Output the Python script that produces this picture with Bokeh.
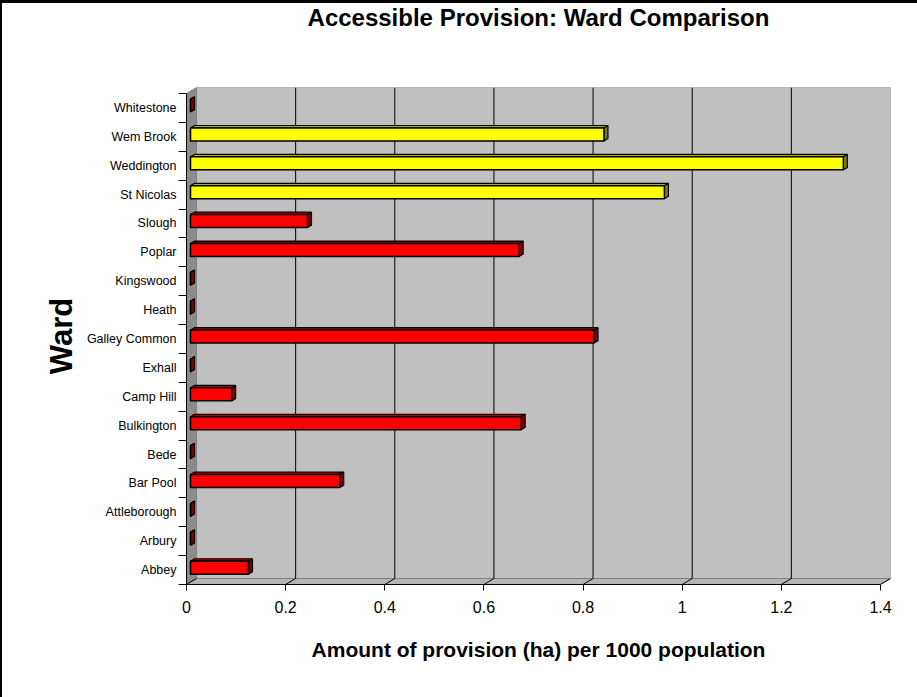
import numpy as np
from bokeh.plotting import figure
from bokeh.models import Range1d, FixedTicker, ColumnDataSource, LinearAxis
from bokeh.embed import file_html
from bokeh.resources import INLINE

# ---------------- data ----------------
wards = ["Abbey", "Arbury", "Attleborough", "Bar Pool", "Bede", "Bulkington",
         "Camp Hill", "Exhall", "Galley Common", "Heath", "Kingswood", "Poplar",
         "Slough", "St Nicolas", "Weddington", "Wem Brook", "Whitestone"]
values = [0.117, 0.0, 0.0, 0.301, 0.0, 0.667,
          0.083, 0.0, 0.814, 0.0, 0.0, 0.663,
          0.236, 0.956, 1.317, 0.834, 0.0]
highlighted = ["St Nicolas", "Weddington", "Wem Brook"]
x_ticks = [0, 0.2, 0.4, 0.6, 0.8, 1.0, 1.2, 1.4]
x_tick_labels = ["0", "0.2", "0.4", "0.6", "0.8", "1", "1.2", "1.4"]
title_text = "Accessible Provision: Ward Comparison"
x_title = "Amount of provision (ha) per 1000 population"
y_title = "Ward"

# ---------------- geometry (3-D look) ----------------
FONT = "Liberation Sans"
XMAX = x_ticks[-1]
n = len(wards)
Y0, Y1 = -0.5, n - 0.5
PXX = 495.7               # pixels per x unit
DX = 10 / PXX            # depth offset in x data units
DY = 6 / 28.9            # depth offset in y data units
D0, D1 = 0.4, 0.8        # bar depth (fraction of wall depth)
H = 0.225                # half bar thickness

p = figure(width=917, height=697,
           x_range=Range1d(0, XMAX + DX), y_range=Range1d(Y0, Y1 + DY),
           output_backend="svg", toolbar_location=None,
           min_border_left=186, min_border_right=27,
           min_border_top=87, min_border_bottom=113)
p.xgrid.visible = False
p.ygrid.visible = False
p.outline_line_color = None
p.background_fill_color = "white"
p.border_fill_color = "white"
p.border_fill_alpha = 0
p.styles = {"box-shadow": "inset 2px 3px 0 0 #000000", "background-color": "white"}

xa = p.below[0]
ya = p.left[0]

# chart title (label of a bare axis above the plot, so it sits at the top of the chart)
ta = LinearAxis(ticker=FixedTicker(ticks=[], minor_ticks=[]),
                axis_label=title_text, axis_line_color=None,
                major_tick_line_color=None, minor_tick_line_color=None,
                major_tick_out=0, major_tick_in=0, minor_tick_out=0, minor_tick_in=0,
                major_label_text_font_size="0px")
ta.axis_label_text_font = FONT
ta.axis_label_text_font_size = "24px"
ta.axis_label_text_font_style = "bold"
ta.axis_label_text_color = "black"
ta.axis_label_standoff = 57
p.add_layout(ta, "above")

# walls
p.quad(left=DX, right=XMAX + DX, bottom=Y0 + DY, top=Y1 + DY,
       fill_color="#C0C0C0", line_color="#808080", line_width=1)
p.patch([0, DX, DX, 0], [Y0, Y0 + DY, Y1 + DY, Y1],
        fill_color="#8C8C8C", line_color="#808080", line_width=1)
p.patch([0, XMAX, XMAX + DX, DX], [Y0, Y0, Y0 + DY, Y0 + DY],
        fill_color="#B4B4B4", line_color="#808080", line_width=1)

# gridlines on back wall and floor
inner = [t for t in x_ticks if 0 < t < XMAX]
p.segment(x0=[t + DX for t in inner], y0=[Y0 + DY] * len(inner),
          x1=[t + DX for t in inner], y1=[Y1 + DY] * len(inner),
          line_color="#000000", line_width=1)
p.segment(x0=x_ticks, y0=[Y0] * len(x_ticks),
          x1=[t + DX for t in x_ticks], y1=[Y0 + DY] * len(x_ticks),
          line_color="#000000", line_width=1)

# bars
v = np.array(values)
idx = np.arange(n)
is_hl = [w in highlighted for w in wards]
front_c = ["#FFFF00" if h else "#FF0000" for h in is_hl]
top_c = ["#B3B300" if h else "#B00000" for h in is_hl]
side_c = ["#808000" if h else "#800000" for h in is_hl]

top_xs = [[D0 * DX, vi + D0 * DX, vi + D1 * DX, D1 * DX] for vi in v]
top_ys = [[i + H + D0 * DY, i + H + D0 * DY, i + H + D1 * DY, i + H + D1 * DY] for i in idx]
side_xs = [[vi + D0 * DX, vi + D1 * DX, vi + D1 * DX, vi + D0 * DX] for vi in v]
side_ys = [[i - H + D0 * DY, i - H + D1 * DY, i + H + D1 * DY, i + H + D0 * DY] for i in idx]

src = ColumnDataSource(dict(
    left=[D0 * DX] * n, right=list(v + D0 * DX),
    bottom=list(idx - H + D0 * DY), top=list(idx + H + D0 * DY),
    top_xs=top_xs, top_ys=top_ys, side_xs=side_xs, side_ys=side_ys,
    front_c=front_c, top_c=top_c, side_c=side_c))

p.patches(xs="top_xs", ys="top_ys", fill_color="top_c", line_color="black", line_width=1.2, source=src)
p.patches(xs="side_xs", ys="side_ys", fill_color="side_c", line_color="black", line_width=1.2, source=src)
p.quad(left="left", right="right", bottom="bottom", top="top",
       fill_color="front_c", line_color="black", line_width=1.5, source=src)

# y axis (categories)
ya.ticker = FixedTicker(ticks=list(range(n)), minor_ticks=[i - 0.5 for i in range(n + 1)])
ya.major_label_overrides = {i: w for i, w in enumerate(wards)}
ya.bounds = (Y0, Y1)
ya.major_tick_out = 0
ya.major_tick_in = 0
ya.minor_tick_out = 8
ya.minor_tick_in = 0
ya.minor_tick_line_color = "black"
ya.axis_line_color = "black"
ya.major_label_text_font = FONT
ya.major_label_text_font_size = "12.5px"
ya.major_label_text_color = "black"
ya.major_label_standoff = 2
ya.axis_label = y_title
ya.axis_label_text_font = FONT
ya.axis_label_text_font_size = "31px"
ya.axis_label_text_font_style = "bold"
ya.axis_label_text_color = "black"
ya.axis_label_standoff = 5

# x axis
xa.ticker = FixedTicker(ticks=x_ticks, minor_ticks=[])
xa.major_label_overrides = {t: l for t, l in zip(x_ticks, x_tick_labels)}
xa.bounds = (0, XMAX)
xa.major_tick_out = 6
xa.major_tick_in = 0
xa.major_tick_line_color = "black"
xa.axis_line_color = "black"
xa.major_label_text_font = FONT
xa.major_label_text_font_size = "16px"
xa.major_label_text_color = "black"
xa.major_label_standoff = 10
xa.axis_label = x_title
xa.axis_label_text_font = FONT
xa.axis_label_text_font_size = "21px"
xa.axis_label_text_font_style = "bold"
xa.axis_label_text_color = "black"
xa.axis_label_standoff = 22

open("out.html", "w").write(file_html(p, INLINE))
